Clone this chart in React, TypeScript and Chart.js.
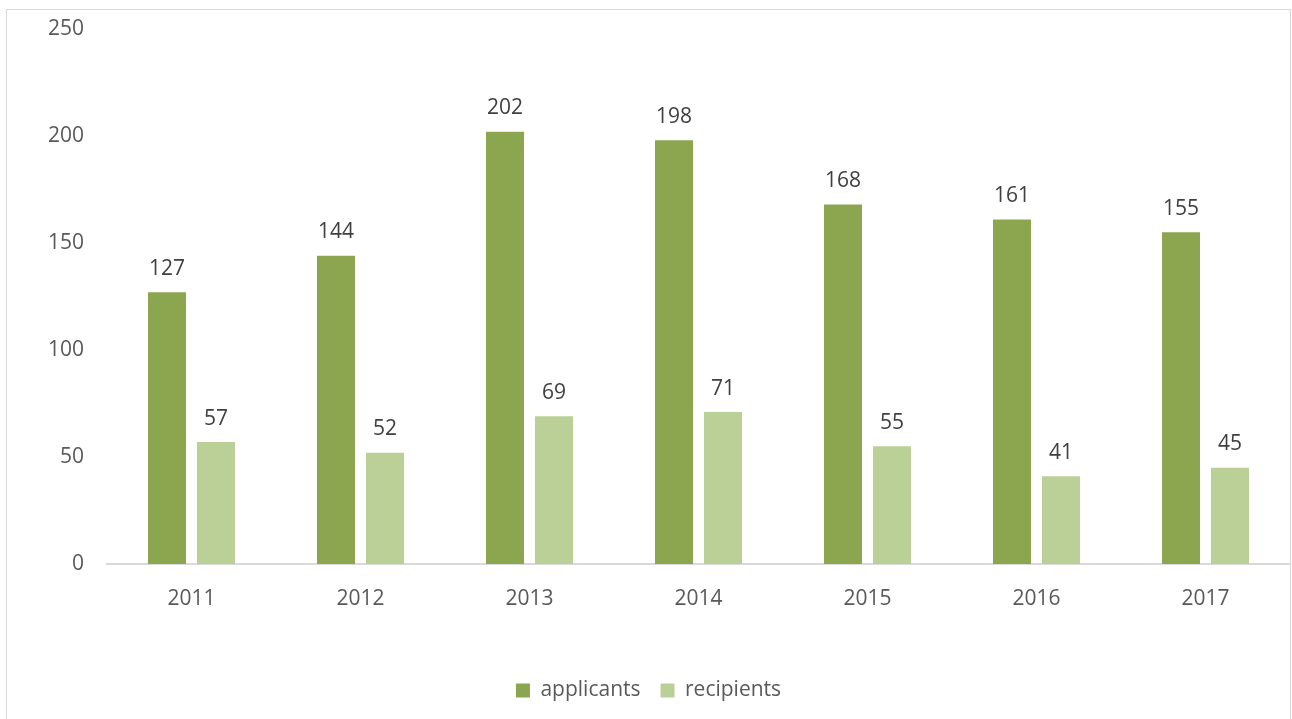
import React, { useEffect, useRef } from 'react';
import { Chart, registerables } from 'chart.js';

Chart.register(...registerables);

const years = ['2011', '2012', '2013', '2014', '2015', '2016', '2017'];
const applicants = [127, 144, 202, 198, 168, 161, 155];
const recipients = [57, 52, 69, 71, 55, 41, 45];
const seriesNames = ['applicants', 'recipients'];
const yMin = 0;
const yMax = 250;
const yStep = 50;

const FONT = '"Open Sans", "Noto Sans", sans-serif';

const dataLabelPlugin = {
  id: 'dataLabels',
  afterDatasetsDraw(chart: any) {
    const ctx = chart.ctx;
    ctx.save();
    ctx.font = `21px ${FONT}`;
    ctx.fillStyle = '#404040';
    ctx.textAlign = 'center';
    ctx.textBaseline = 'bottom';
    chart.data.datasets.forEach((ds: any, i: number) => {
      const meta = chart.getDatasetMeta(i);
      meta.data.forEach((el: any, j: number) => {
        ctx.fillText(String(ds.data[j]), el.x, el.y - 13);
      });
    });
    ctx.restore();
  },
};

export default function App() {
  const ref = useRef<HTMLCanvasElement | null>(null);
  useEffect(() => {
    if (!ref.current) return;
    const chart = new Chart(ref.current, {
      type: 'bar',
      data: {
        labels: years,
        datasets: [
          {
            label: seriesNames[0],
            data: applicants,
            backgroundColor: '#8ba64f',
            categoryPercentage: 0.58,
            barPercentage: 0.776,
          },
          {
            label: seriesNames[1],
            data: recipients,
            backgroundColor: '#bad097',
            categoryPercentage: 0.58,
            barPercentage: 0.776,
          },
        ],
      },
      options: {
        responsive: false,
        animation: false,
        layout: { padding: { top: 19, left: 0, right: 0, bottom: 11 } },
        plugins: {
          tooltip: { enabled: false },
          legend: {
            position: 'bottom',
            labels: {
              boxWidth: 14,
              boxHeight: 14,
              padding: 20,
              color: '#595959',
              font: { family: FONT, size: 21 },
            },
          },
        },
        scales: {
          x: {
            grid: { display: false, drawTicks: false },
            border: { display: true, color: '#d9d9d9', width: 2 },
            ticks: { color: '#595959', font: { family: FONT, size: 21 }, padding: 22 },
            afterFit: (s: any) => { s.height = 96; },
          },
          y: {
            min: yMin,
            max: yMax,
            grid: { display: false, drawTicks: false },
            border: { display: false },
            ticks: { stepSize: yStep, color: '#595959', font: { family: FONT, size: 21 }, padding: 23 },
            afterFit: (s: any) => {
              s.width = 100;
              s.paddingTop = 0;
              s.paddingBottom = 0;
            },
          },
        },
      },
      plugins: [dataLabelPlugin],
    });
    return () => chart.destroy();
  }, []);

  return (
    <div
      style={{
        position: 'absolute',
        left: 6,
        top: 9,
        width: 1283,
        height: 712,
        border: '1px solid #d9d9d9',
        background: '#fff',
      }}
    >
      <canvas ref={ref} width={1283} height={712} style={{ display: 'block' }} />
    </div>
  );
}
